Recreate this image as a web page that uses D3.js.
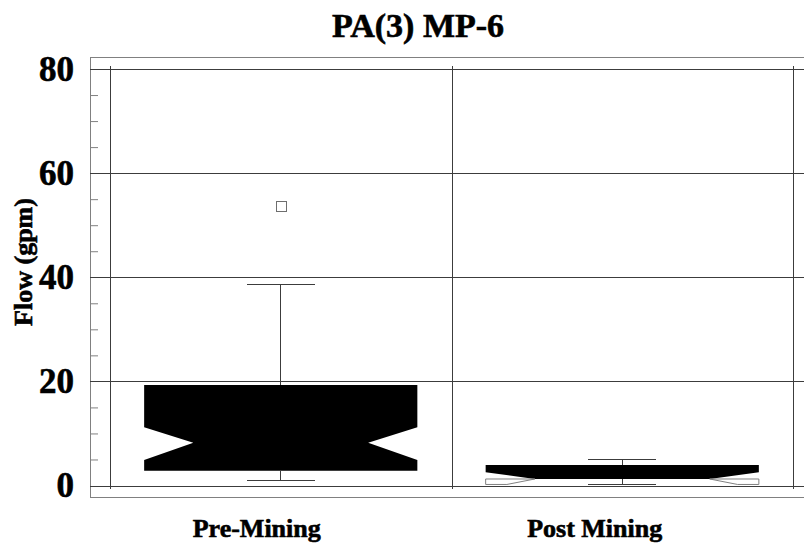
<!DOCTYPE html>
<html>
<head>
<meta charset="utf-8">
<script src="https://cdn.jsdelivr.net/npm/d3@7"></script>
<style>
	body { margin: 0; background: #fff; }
	text { font-family: 'Liberation Serif', 'Times New Roman', serif; font-weight: bold; fill: #000; stroke: #000; stroke-width: 0.6px; }
</style>
</head>
<body>
<div id="js_chart"></div>
<script>
'use strict';
// categories and five-number summaries (gpm)
const categories = ['Pre-Mining', 'Post Mining'];
const whiskerLow = [1.06, 0.2];
const q1 = [2.85, 0.2];
const notchLow = [4.9, -0.6];
const median = [8.2, 1.25];
const notchHigh = [11.2, 2.55];
const q3 = [19.3, 3.94];
const whiskerHigh = [38.7, 5.1];
const outliers = [[53.7], []];
const yMajorTicks = [0, 20, 40, 60, 80];
const yMinorTicks = d3.range(0, 81, 5);

const width = 804;
const height = 548;
const frame = { left: 90, top: 57, bottom: 497 };
const gridColor = 'rgb(60,60,60)';
const frameColor = 'rgb(128,128,128)';

const svg = d3.select('#js_chart').append('svg')
	.attr('width', width)
	.attr('height', height);

const x = d3.scaleBand().domain(categories).range([110, 793]);
const y = d3.scaleLinear().domain([0, 80]).range([485.5, 69]);

function drawLine(g, x1, y1, x2, y2, color) {
	g.append('line')
		.attr('x1', x1).attr('y1', y1)
		.attr('x2', x2).attr('y2', y2)
		.style('stroke', color)
		.style('stroke-width', 1)
		.style('shape-rendering', 'crispEdges');
}

// frame
drawLine(svg, frame.left, frame.top, width, frame.top, frameColor);
drawLine(svg, frame.left, frame.top, frame.left, frame.bottom, frameColor);
drawLine(svg, frame.left, frame.bottom, width, frame.bottom, frameColor);

// horizontal grid
yMajorTicks.forEach(function (v) {
	drawLine(svg, frame.left, Math.round(y(v)) + 0.5, width, Math.round(y(v)) + 0.5, gridColor);
});
// vertical grid at band edges
const bandEdges = categories.map(function (c) { return x(c); }).concat([x.range()[1]]);
bandEdges.forEach(function (e) {
	drawLine(svg, Math.round(e) + 0.5, 66, Math.round(e) + 0.5, 489, gridColor);
});

// minor ticks on the frame
const minor = svg.append('g')
	.attr('transform', 'translate(' + frame.left + ',0)')
	.call(d3.axisRight(y).tickValues(yMinorTicks.filter(function (v) { return v % 20 !== 0; }))
		.tickSize(8).tickFormat(''));
minor.select('.domain').remove();
minor.selectAll('line').style('stroke', frameColor);

// tick labels
const yAxis = svg.append('g')
	.attr('transform', 'translate(' + 74 + ',0)')
	.call(d3.axisLeft(y).tickValues(yMajorTicks).tickSize(0).tickPadding(0));
yAxis.select('.domain').remove();
yAxis.selectAll('text')
	.style('font-size', '35px')
	.style('font-family', "'Liberation Serif', serif")
	.style('font-weight', 'bold')
	.attr('fill', '#000');

// boxes
const boxW = x.bandwidth() * 0.8;
const capW = x.bandwidth() * 0.2;
const inset = boxW * 0.18;

categories.forEach(function (c, i) {
	const cx = x(c) + x.bandwidth() / 2;
	const L = cx - boxW / 2, R = cx + boxW / 2;
	const g = svg.append('g');

	// whiskers
	drawLine(g, cx, y(q3[i]), cx, y(whiskerHigh[i]), gridColor);
	drawLine(g, cx, y(q1[i]), cx, y(whiskerLow[i]), gridColor);
	drawLine(g, cx - capW / 2, Math.round(y(whiskerHigh[i])) + 0.5, cx + capW / 2, Math.round(y(whiskerHigh[i])) + 0.5, gridColor);
	drawLine(g, cx - capW / 2, Math.round(y(whiskerLow[i])) + 0.5, cx + capW / 2, Math.round(y(whiskerLow[i])) + 0.5, gridColor);

	// upper half of notched box
	const upper = [[L, y(q3[i])], [L, y(notchHigh[i])], [L + inset, y(median[i])],
		[R - inset, y(median[i])], [R, y(notchHigh[i])], [R, y(q3[i])]];
	if (notchLow[i] >= q1[i]) {
		const full = [[L, y(q3[i])], [L, y(notchHigh[i])], [L + inset, y(median[i])], [L, y(notchLow[i])],
			[L, y(q1[i])], [R, y(q1[i])], [R, y(notchLow[i])], [R - inset, y(median[i])],
			[R, y(notchHigh[i])], [R, y(q3[i])]];
		g.append('polygon')
			.attr('points', full.map(function (p) { return p.join(','); }).join(' '))
			.style('fill', '#000');
	} else {
		g.append('polygon')
			.attr('points', upper.map(function (p) { return p.join(','); }).join(' '))
			.style('fill', '#000');
		// folded lower notch: drawn as outline only, cut at the lower hinge
		const t = (y(q1[i]) - y(median[i])) / (y(notchLow[i]) - y(median[i]));
		const xl = L + inset - inset * t;
		const xr = R - inset + inset * t;
		const left = [[L, y(median[i])], [L + inset, y(median[i])], [xl, y(q1[i])], [L, y(q1[i])]];
		const right = [[R, y(median[i])], [R - inset, y(median[i])], [xr, y(q1[i])], [R, y(q1[i])]];
		[left, right].forEach(function (pts) {
			g.append('polygon')
				.attr('points', pts.map(function (p) { return p.join(','); }).join(' '))
				.style('fill', 'none')
				.style('stroke', frameColor)
				.style('stroke-width', 1);
		});
		drawLine(g, cx, y(median[i]), cx, y(whiskerLow[i]), gridColor);
	}

	// outliers
	g.selectAll('rect.outlier')
		.data(outliers[i]).enter().append('rect')
		.attr('class', 'outlier')
		.attr('x', Math.round(cx) - 5 + 0.5)
		.attr('y', function (d) { return Math.round(y(d)) - 5 + 0.5; })
		.attr('width', 10)
		.attr('height', 10)
		.style('fill', 'none')
		.style('stroke', 'rgb(110,110,110)')
		.style('stroke-width', 1);
});

// category labels
svg.selectAll('.catLabel')
	.data(categories).enter().append('text')
	.attr('class', 'catLabel')
	.attr('x', function (d) { return x(d) + x.bandwidth() / 2 + 40; })
	.attr('y', 537)
	.style('text-anchor', 'end')
	.style('font-size', '26px')
	.text(function (d) { return d; });

// axis title
svg.append('text')
	.attr('transform', 'translate(32,262) rotate(-90)')
	.style('text-anchor', 'middle')
	.style('font-size', '26px')
	.text('Flow (gpm)');

// chart title
svg.append('text')
	.attr('x', 418)
	.attr('y', 37)
	.style('text-anchor', 'middle')
	.style('font-size', '34px')
	.text('PA(3) MP-6');
</script>
</body>
</html>
